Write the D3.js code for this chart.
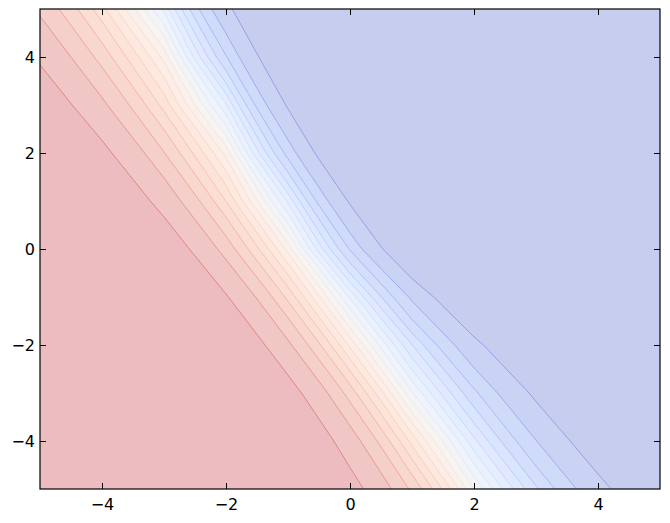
<!DOCTYPE html>
<html>
<head>
<meta charset="utf-8">
<script src="https://cdn.jsdelivr.net/npm/d3@7"></script>
<style>
  html, body { margin: 0; padding: 0; background: #fff; }
  svg text { font-family: "DejaVu Sans", sans-serif; }
</style>
</head>
<body>
<svg id="chart" width="670" height="523"></svg>
<script>
// ---- data ----
const gridX = [-5, -4, -3, -2, -1, 0, 1, 2, 3, 4, 5];
const gridY = [5, 4, 3, 2, 1, 0, -1, -2, -3, -4, -5];   // rows, top to bottom
// estimated log-odds of the red class at each grid node (row per gridY)
const logitGrid = [
  [ 2.09,  0.93, -0.45, -2.72, -4.98, -7.25, -9.51, -11.78, -14.04, -16.31, -18.57],
  [ 2.81,  1.58,  0.34, -1.70, -4.05, -6.41, -8.76, -11.12, -13.47, -15.83, -18.18],
  [ 3.63,  2.31,  1.00, -0.59, -3.04, -5.49, -7.95, -10.40, -12.85, -15.31, -17.76],
  [ 4.58,  3.17,  1.75,  0.34, -1.88, -4.35, -6.83,  -9.30, -11.78, -14.25, -16.72],
  [ 5.65,  4.13,  2.61,  1.09, -0.66, -3.04, -5.41,  -7.79, -10.16, -12.53, -14.91],
  [ 6.91,  5.26,  3.62,  1.97,  0.33, -1.77, -3.99,  -6.20,  -8.41, -10.63, -12.84],
  [ 8.15,  6.44,  4.73,  3.01,  1.30, -0.44, -2.30,  -4.15,  -6.00,  -7.85,  -9.71],
  [ 9.27,  7.53,  5.78,  4.04,  2.30,  0.56, -1.09,  -2.70,  -4.31,  -5.92,  -7.53],
  [10.43,  8.65,  6.88,  5.11,  3.33,  1.56, -0.18,  -1.64,  -3.11,  -4.57,  -6.04],
  [11.15,  9.42,  7.69,  5.96,  4.23,  2.49,  0.76,  -0.78,  -2.18,  -3.57,  -4.97],
  [11.58,  9.92,  8.27,  6.62,  4.96,  3.31,  1.65,   0.00,  -1.33,  -2.66,  -4.00]
];
const levels = [0, 0.05, 0.1, 0.15, 0.2, 0.25, 0.3, 0.35, 0.4, 0.45, 0.5,
                0.55, 0.6, 0.65, 0.7, 0.75, 0.8, 0.85, 0.9, 0.95, 1];
const xTicks = [-4, -2, 0, 2, 4];
const yTicks = [-4, -2, 0, 2, 4];
const xDomain = [-5, 5];
const yDomain = [-5, 5];
// coolwarm colormap anchor colours
const coolwarm = [
  [59,76,192],[68,90,204],[77,104,215],[87,117,225],[98,130,234],[108,142,241],
  [119,154,247],[130,165,251],[141,176,254],[152,185,255],[163,194,255],[174,201,253],
  [184,208,249],[194,213,244],[204,217,238],[213,219,230],[221,221,221],[229,216,209],
  [236,211,197],[241,204,185],[245,196,173],[247,187,160],[247,177,148],[247,166,135],
  [244,154,123],[241,141,111],[236,127,99],[229,112,88],[222,96,77],[213,80,66],
  [203,62,56],[192,40,47],[180,4,38]
];

// ---- layout ----
const margin = { left: 40, top: 9, right: 10, bottom: 34 };
const pw = 620, ph = 480;
const alpha = 0.3;

const svg = d3.select("#chart");
const x = d3.scaleLinear().domain(xDomain).range([margin.left, margin.left + pw]);
const y = d3.scaleLinear().domain(yDomain).range([margin.top + ph, margin.top]);

const cmap = d3.piecewise(d3.interpolateRgb, coolwarm.map(c => d3.rgb(c[0], c[1], c[2])));
const lmin = levels[0], lmax = levels[levels.length - 1];
const norm = v => (v - lmin) / (lmax - lmin);
const bandColor = v => d3.interpolateRgb("#ffffff", cmap(norm(v)))(alpha);

svg.append("defs").append("clipPath").attr("id", "plotclip")
  .append("rect").attr("x", x(xDomain[0])).attr("y", y(yDomain[1]))
  .attr("width", pw).attr("height", ph);

const nx = gridX.length, ny = gridY.length;
const flat = logitGrid.flat();
const inner = levels.slice(1, -1);
const thresholds = inner.map(l => Math.log(l / (1 - l)));
const contours = d3.contours().size([nx, ny]).thresholds(thresholds)(flat);

const dxg = gridX[1] - gridX[0], dyg = gridY[1] - gridY[0];
const proj = d3.geoTransform({
  point: function(px, py) {
    this.stream.point(x(gridX[0] + (px - 0.5) * dxg), y(gridY[0] + (py - 0.5) * dyg));
  }
});
const path = d3.geoPath(proj);

const g = svg.append("g").attr("clip-path", "url(#plotclip)");
// lowest band covers everything
g.append("rect").attr("x", x(xDomain[0])).attr("y", y(yDomain[1]))
  .attr("width", pw).attr("height", ph)
  .attr("fill", bandColor((levels[0] + levels[1]) / 2));

contours.forEach((c, k) => {
  const lo = levels[k + 1], hi = levels[k + 2];
  g.append("path").attr("d", path(c))
    .attr("fill", bandColor((lo + hi) / 2))
    .attr("stroke", "none");
});
// seams at band boundaries
contours.forEach((c, k) => {
  g.append("path").attr("d", path(c))
    .attr("fill", "none")
    .attr("stroke", cmap(norm(levels[k + 1])))
    .attr("stroke-opacity", 0.42)
    .attr("stroke-width", 1);
});

// ---- axes (classic style: ticks inside on all four sides) ----
const tickLen = 6;
const fmt = v => (v < 0 ? "\u2212" + Math.abs(v) : String(v));
const axB = d3.axisBottom(x).tickValues(xTicks).tickSizeInner(-tickLen).tickSizeOuter(0).tickPadding(10).tickFormat(fmt);
const axT = d3.axisTop(x).tickValues(xTicks).tickSizeInner(-tickLen).tickSizeOuter(0).tickFormat("");
const axL = d3.axisLeft(y).tickValues(yTicks).tickSizeInner(-tickLen).tickSizeOuter(0).tickPadding(5).tickFormat(fmt);
const axR = d3.axisRight(y).tickValues(yTicks).tickSizeInner(-tickLen).tickSizeOuter(0).tickFormat("");

function style(sel) {
  sel.select(".domain").remove();
  sel.selectAll(".tick line").attr("stroke", "#000").attr("stroke-width", 1);
  sel.selectAll(".tick text").attr("fill", "#000").attr("font-size", 16)
     .attr("font-family", "DejaVu Sans, sans-serif");
}
svg.append("g").attr("transform", `translate(0,${margin.top + ph})`).call(axB).call(style);
svg.append("g").attr("transform", `translate(0,${margin.top})`).call(axT).call(style);
svg.append("g").attr("transform", `translate(${margin.left},0)`).call(axL).call(style);
svg.append("g").attr("transform", `translate(${margin.left + pw},0)`).call(axR).call(style);

svg.append("rect").attr("x", x(xDomain[0])).attr("y", y(yDomain[1]))
  .attr("width", pw).attr("height", ph)
  .attr("fill", "none").attr("stroke", "#000").attr("stroke-width", 1.2);
</script>
</body>
</html>
